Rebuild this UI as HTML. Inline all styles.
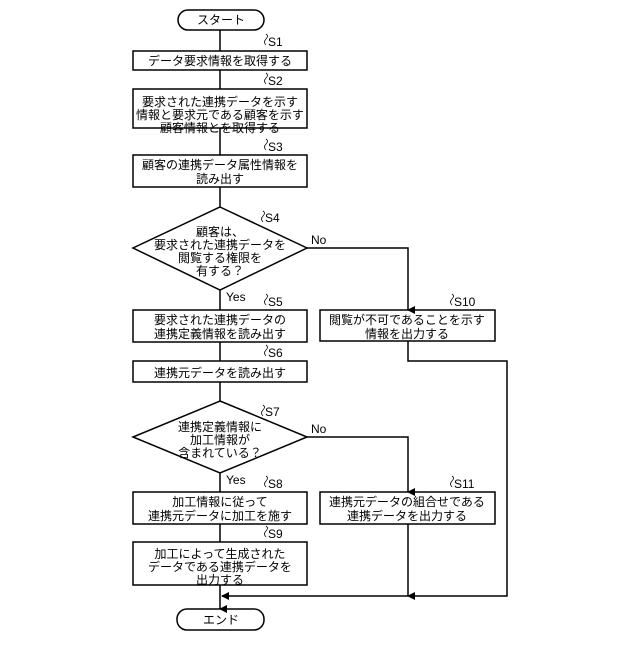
<!DOCTYPE html>
<html><head><meta charset="utf-8"><style>
html,body{margin:0;padding:0;background:#fff;}
svg text{font-family:"Liberation Sans","Noto Sans CJK JP",sans-serif;font-size:12px;fill:#000;}
</style></head><body>
<svg width="640" height="640" viewBox="0 0 640 640" xmlns="http://www.w3.org/2000/svg">
<defs><marker id="a" markerWidth="8" markerHeight="8" refX="4" refY="7" orient="auto" markerUnits="userSpaceOnUse"><path d="M0,0 L8,0 L4,8 z" fill="#000" transform="rotate(0)"/></marker>
<marker id="al" markerWidth="8" markerHeight="8" refX="1" refY="4" orient="0" markerUnits="userSpaceOnUse"><path d="M0,4 L8,0 L8,8 z" fill="#000"/></marker></defs>
<g stroke="#000" stroke-width="1.5" fill="none">
<rect x="178" y="10" width="86" height="20" rx="10"/>
<rect x="133" y="51" width="174" height="19"/>
<rect x="133" y="89" width="174" height="39"/>
<rect x="133" y="155" width="174" height="32"/>
<polygon points="220,207 307,248 220,290 133,248"/>
<rect x="133" y="310" width="174" height="32"/>
<rect x="133" y="361" width="174" height="21"/>
<polygon points="220,401 307,437 220,473 133,437"/>
<rect x="133" y="492" width="174" height="32"/>
<rect x="133" y="542" width="174" height="43"/>
<rect x="177" y="609" width="87" height="21" rx="10"/>
<rect x="320" y="310" width="175" height="31"/>
<rect x="320" y="492" width="175" height="32"/>
<path d="M220,30 V51 M220,70 V89 M220,128 V155 M220,187 V207 M220,290 V310 M220,342 V361 M220,382 V401 M220,473 V492 M220,524 V542 M220,585 V609" marker-end="url(#a)"/>
<path d="M307,248 H408 V310" marker-end="url(#a)"/>
<path d="M307,437 H408 V492" marker-end="url(#a)"/>
<path d="M408,524 V596" marker-end="url(#a)"/>
<path d="M408,341 V361 H507 V596 H222" marker-end="url(#al)"/>
<path stroke-width="0.8" d="M266,45 q-3,-3 0,-6 q3,-3 0,-5 M266,84 q-3,-3 0,-6 q3,-3 0,-5 M266,150 q-3,-3 0,-6 q3,-3 0,-5 M263,222 q-3,-3 0,-6 q3,-3 0,-5 M266,305 q-3,-3 0,-6 q3,-3 0,-5 M266,356 q-3,-3 0,-6 q3,-3 0,-5 M263,416 q-3,-3 0,-6 q3,-3 0,-5 M266,487 q-3,-3 0,-6 q3,-3 0,-5 M266,537 q-3,-3 0,-6 q3,-3 0,-5 M452,305 q-3,-3 0,-6 q3,-3 0,-5 M452,487 q-3,-3 0,-6 q3,-3 0,-5"/>
</g>
<g text-anchor="middle">
<text x="221" y="24">スタート</text>
<text x="220" y="65">データ要求情報を取得する</text>
<text x="220" y="106">要求された連携データを示す</text>
<text x="220" y="119">情報と要求元である顧客を示す</text>
<text x="220" y="132">顧客情報とを取得する</text>
<text x="220" y="169">顧客の連携データ属性情報を</text>
<text x="220" y="183">読み出す</text>
<text x="220" y="236">顧客は、</text>
<text x="220" y="249">要求された連携データを</text>
<text x="220" y="262">閲覧する権限を</text>
<text x="220" y="275">有する？</text>
<text x="220" y="324">要求された連携データの</text>
<text x="220" y="338">連携定義情報を読み出す</text>
<text x="220" y="377">連携元データを読み出す</text>
<text x="220" y="431">連携定義情報に</text>
<text x="220" y="444">加工情報が</text>
<text x="220" y="457">含まれている？</text>
<text x="220" y="506">加工情報に従って</text>
<text x="220" y="520">連携元データに加工を施す</text>
<text x="220" y="558">加工によって生成された</text>
<text x="220" y="571">データである連携データを</text>
<text x="220" y="584">出力する</text>
<text x="221" y="624">エンド</text>
<text x="407" y="324">閲覧が不可であることを示す</text>
<text x="407" y="338">情報を出力する</text>
<text x="407" y="506">連携元データの組合せである</text>
<text x="407" y="520">連携データを出力する</text>
</g>
<g font-size="11">
<text x="268" y="46">S1</text><text x="268" y="85">S2</text><text x="268" y="151">S3</text>
<text x="265" y="222">S4</text><text x="268" y="306">S5</text><text x="268" y="357">S6</text>
<text x="265" y="416">S7</text><text x="268" y="488">S8</text><text x="268" y="538">S9</text>
<text x="454" y="306">S10</text><text x="454" y="488">S11</text>
<text x="226" y="301">Yes</text><text x="226" y="484">Yes</text>
<text x="311" y="244">No</text><text x="311" y="433">No</text>
</g>
</svg>
</body></html>
